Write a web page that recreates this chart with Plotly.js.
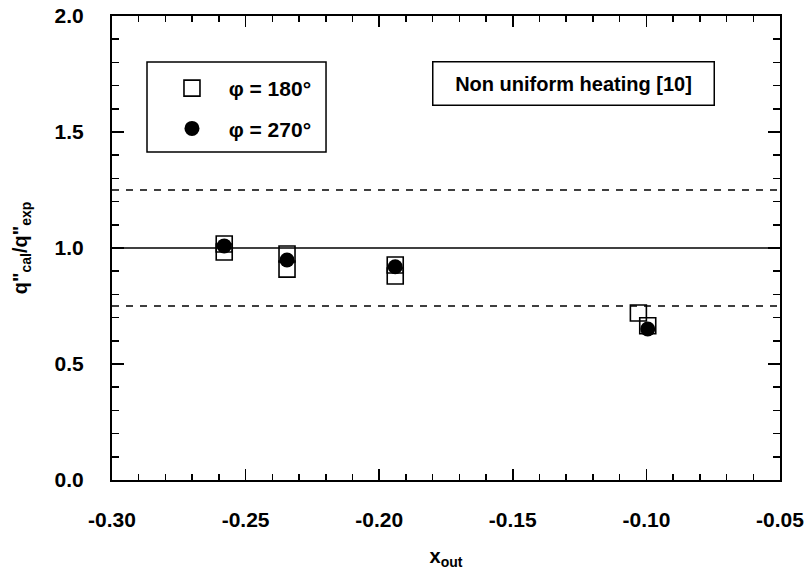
<!DOCTYPE html>
<html>
<head>
<meta charset="utf-8">
<script src="https://cdn.plot.ly/plotly-3.0.1.min.js"></script>
<style>html,body{margin:0;padding:0;background:#fff;}#chart{width:806px;height:570px;}</style>
</head>
<body>
<div id="chart"></div>
<script>
// Data
const xPhi180 = [-0.258, -0.258, -0.2345, -0.2345, -0.194, -0.194, -0.103, -0.0995];
const yPhi180 = [1.017, 0.983, 0.974, 0.909, 0.927, 0.879, 0.720, 0.665];
const xPhi270 = [-0.258, -0.2345, -0.194, -0.0995];
const yPhi270 = [1.009, 0.948, 0.919, 0.651];
const refX = [-0.30, -0.05];
const refSolid = [1.0, 1.0];
const refUpper = [1.25, 1.25];
const refLower = [0.75, 0.75];
const xTickVals = [-0.30, -0.25, -0.20, -0.15, -0.10, -0.05];
const xTickText = ['-0.30', '-0.25', '-0.20', '-0.15', '-0.10', '-0.05'];
const yTickVals = [0.0, 0.5, 1.0, 1.5, 2.0];
const yTickText = ['0.0', '0.5', '1.0', '1.5', '2.0'];

const FONT = 'Liberation Sans, Arial, Helvetica, sans-serif';

const traces = [
  {x: refX, y: refSolid, mode: 'lines', line: {color: '#000', width: 1.6}, showlegend: false, hoverinfo: 'skip'},
  {x: refX, y: refUpper, mode: 'lines', line: {color: '#000', width: 1.5, dash: '7px,7px'}, showlegend: false, hoverinfo: 'skip'},
  {x: refX, y: refLower, mode: 'lines', line: {color: '#000', width: 1.5, dash: '7px,7px'}, showlegend: false, hoverinfo: 'skip'},
  {x: xPhi180, y: yPhi180, mode: 'markers', name: '\u00a0\u00a0φ = 180°', legendgroup: 'a',
   marker: {symbol: 'square-open', size: 16, color: '#000', line: {width: 1.6, color: '#000'}}},
  {x: xPhi270, y: yPhi270, mode: 'markers', name: '\u00a0\u00a0φ = 270°', legendgroup: 'b',
   marker: {symbol: 'circle', size: 15, color: '#000'}}
];

const axisCommon = {
  showgrid: false, zeroline: false, showline: true, linecolor: '#000', linewidth: 2,
  mirror: 'allticks', ticks: 'inside', tickcolor: '#000', tickwidth: 1.5,
  tickfont: {family: FONT, size: 21, color: '#000', weight: 'bold'}
};

const layout = {
  width: 806, height: 570,
  margin: {l: 112, r: 26, t: 16, b: 90},
  paper_bgcolor: '#fff', plot_bgcolor: '#fff',
  font: {family: FONT, color: '#000'},
  xaxis: Object.assign({}, axisCommon, {
    range: [-0.30, -0.05], tickmode: 'array', tickvals: xTickVals, ticktext: xTickText,
    ticklen: 11, ticklabelstandoff: 20,
    minor: {dtick: 0.01, tick0: -0.30, ticks: 'inside', ticklen: 6, tickcolor: '#000', tickwidth: 1.5, showgrid: false},
    title: {text: 'x<sub>out</sub>', font: {family: FONT, size: 20, color: '#000', weight: 'bold'}, standoff: 20}
  }),
  yaxis: Object.assign({}, axisCommon, {
    range: [0, 2.0], tickmode: 'array', tickvals: yTickVals, ticktext: yTickText,
    ticklen: 12, ticklabelstandoff: 22,
    minor: {dtick: 0.1, tick0: 0, ticks: 'inside', ticklen: 7, tickcolor: '#000', tickwidth: 1.5, showgrid: false},
    title: {text: 'q"<sub>cal</sub>/q"<sub>exp</sub>', font: {family: FONT, size: 20, color: '#000', weight: 'bold'}, standoff: 22}
  }),
  legend: {
    x: 0.0823, y: 0.888, xanchor: 'left', yanchor: 'top',
    bgcolor: 'rgba(0,0,0,0)', borderwidth: 0,
    font: {family: FONT, size: 21, color: '#000', weight: 'bold'},
    tracegroupgap: 10, itemwidth: 40
  },
  shapes: [{
    type: 'rect', xref: 'paper', yref: 'paper',
    x0: 0.0524, x1: 0.3204, y0: 0.7069, y1: 0.9009,
    line: {color: '#000', width: 1.5}, fillcolor: '#fff', layer: 'below'
  }],
  annotations: [{
    xref: 'paper', yref: 'paper', x: 0.6916, y: 0.8545, xanchor: 'center', yanchor: 'middle',
    text: 'Non uniform heating [10]', showarrow: false,
    font: {family: FONT, size: 20, color: '#000', weight: 'bold'},
    width: 264, height: 26, borderpad: 8,
    bordercolor: '#000', borderwidth: 1.5, bgcolor: '#fff'
  }],
  showlegend: true
};

Plotly.newPlot('chart', traces, layout, {displayModeBar: false, staticPlot: true});
</script>
</body>
</html>
